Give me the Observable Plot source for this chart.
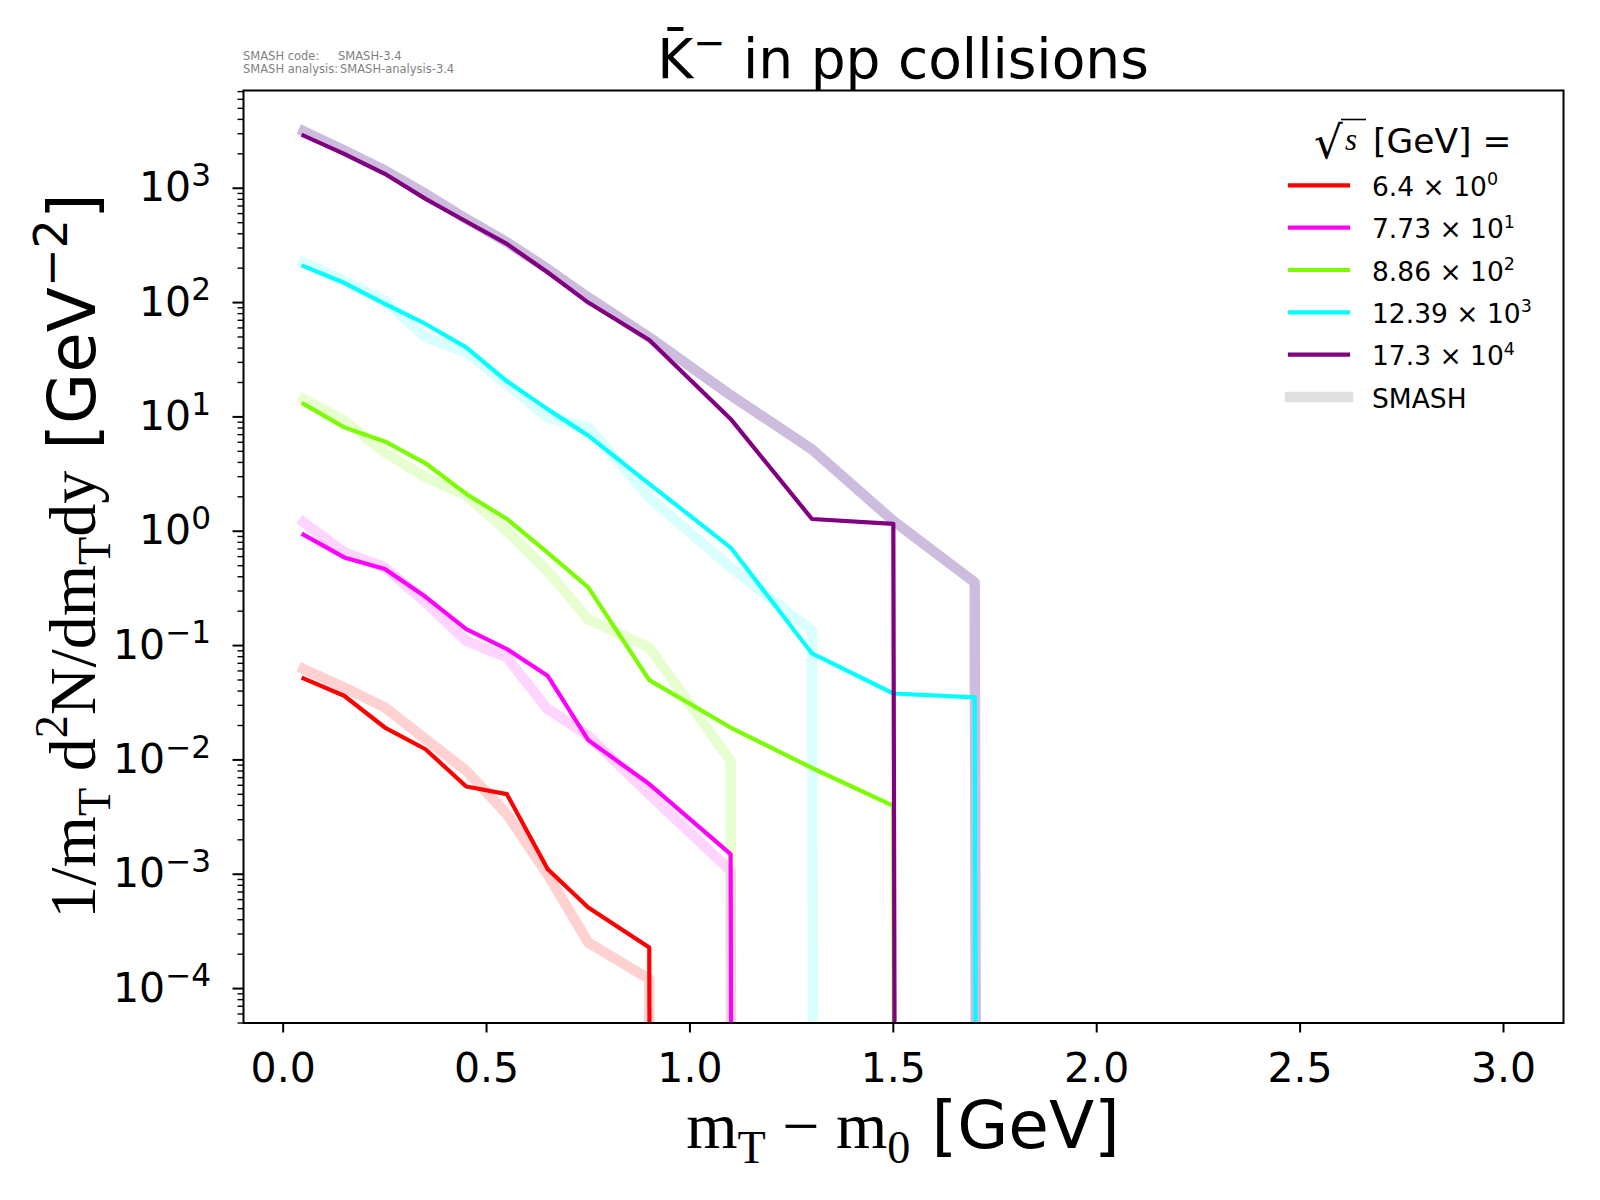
<!DOCTYPE html>
<html>
<head>
<meta charset="utf-8">
<script src="https://cdn.jsdelivr.net/npm/d3@7"></script>
<script src="https://cdn.jsdelivr.net/npm/@observablehq/plot@0.6"></script>
<style>
  body { margin: 0; background: #fff; }
  svg { display: block; }
  text { white-space: pre; }
</style>
</head>
<body>
<script>
// ---------------- data ----------------
const xBins = [0.05, 0.15, 0.25, 0.35, 0.45, 0.55, 0.65, 0.75, 0.9, 1.1, 1.3, 1.5, 1.7, 1.9];

const energyLabels = ["6.4 × 10^0", "7.73 × 10^1", "8.86 × 10^2", "12.39 × 10^3", "17.3 × 10^4"];

// experimental data (scaled)
const expE1 = [0.0516, 0.0364, 0.0192, 0.0124, 0.00586, 0.00502, 0.00111, 0.000512, 0.000229, 0, 0, 0, 0, 0];
const expE2 = [0.933, 0.59, 0.467, 0.267, 0.1395, 0.0933, 0.0545, 0.0149, 0.00615, 0.0015, 0, 0, 0, 0];
const expE3 = [13.0, 8.1, 6.1, 3.93, 2.12, 1.28, 0.65, 0.323, 0.0499, 0.0192, 0.0085, 0.00397, 0, 0];
const expE4 = [208, 149, 97.3, 65, 40.6, 20.5, 11.7, 6.86, 2.6, 0.72, 0.0854, 0.0381, 0.0352, 0];
const expE5 = [2890, 2000, 1337, 807, 512, 326, 184, 100, 47.1, 9.6, 1.28, 1.16, 0, 0];

// SMASH (scaled)
const smashE1 = [0.0624, 0.0431, 0.0288, 0.0152, 0.00804, 0.00336, 0.001, 0.000253, 0.000121, 0, 0, 0, 0, 0];
const smashE2 = [1.2, 0.653, 0.483, 0.239, 0.110, 0.0787, 0.0279, 0.0163, 0.00502, 0.00107, 0, 0, 0, 0];
const smashE3 = [14.4, 9.27, 4.9, 2.96, 2.05, 1.01, 0.45, 0.17, 0.096, 0.0098, 0, 0, 0, 0];
const smashE4 = [225, 155, 104, 49.7, 36.7, 19.4, 9.9, 8.1, 1.98, 0.483, 0.135, 0, 0, 0];
const smashE5 = [3150, 2140, 1430, 893, 540, 337, 197, 111, 49.7, 15.5, 5.2, 1.23, 0.357, 0];

const xTicks = [0, 0.5, 1.0, 1.5, 2.0, 2.5, 3.0];
const yMajorTicks = [1e-4, 1e-3, 1e-2, 1e-1, 1e0, 1e1, 1e2, 1e3];

// ---------------- styles ----------------
const lineColors = ["#ff0000", "#ff00ff", "#7cfc00", "#00ffff", "#800080"];
const bandColors = ["#ff0000", "#ff00ff", "#7cfc00", "#00ffff", "#663399"];
const bandOpacity = [0.18, 0.17, 0.18, 0.15, 0.33];

const expSeries = [expE1, expE2, expE3, expE4, expE5];
const smashSeries = [smashE1, smashE2, smashE3, smashE4, smashE5];

const yDomain = [5e-5, 7160];
const FLOOR = 1e-300; // non-positive values clipped like a log axis does
const toRows = vals => xBins.map((x, i) => ({x, y: vals[i] > 0 ? vals[i] : FLOOR}));

const yMinorTicks = [];
for (let e = -5; e <= 3; e++) for (let m = 2; m <= 9; m++) {
  const v = m * Math.pow(10, e);
  if (v >= yDomain[0] && v <= yDomain[1]) yMinorTicks.push(v);
}

const supFmt = d => "10^" + Math.round(Math.log10(d));
const Y_TICK_FS = 41;

const svg = Plot.plot({
  width: 1600,
  height: 1200,
  marginLeft: 243,
  marginRight: 37,
  marginTop: 90,
  marginBottom: 177.5,
  style: {fontFamily: "DejaVu Sans", background: "white", overflow: "visible"},
  x: {domain: [-0.0975, 3.1475], label: null},
  y: {type: "log", domain: yDomain, label: null},
  marks: [
    ...smashSeries.map((v, k) => Plot.line(toRows(v), {
      x: "x", y: "y", stroke: bandColors[k], strokeOpacity: bandOpacity[k],
      strokeWidth: 10.4, strokeLinecap: "square", strokeLinejoin: "round", clip: true
    })),
    ...expSeries.map((v, k) => Plot.line(toRows(v), {
      x: "x", y: "y", stroke: lineColors[k],
      strokeWidth: 4.2, strokeLinecap: "square", strokeLinejoin: "round", clip: true
    })),
    Plot.axisX({ticks: xTicks, tickFormat: d3.format(".1f"), tickSize: 10, tickPadding: 20,
      fontSize: 41, strokeWidth: 2, label: null}),
    Plot.axisY({ticks: yMinorTicks, tickFormat: () => "", tickSize: 5.5, strokeWidth: 1.4, label: null}),
    Plot.axisY({ticks: yMajorTicks, tickFormat: supFmt, tickSize: 10.5, tickPadding: 22,
      fontSize: Y_TICK_FS, strokeWidth: 2, label: null}),
    Plot.frame({stroke: "black", strokeWidth: 2})
  ]
});
document.body.appendChild(svg);

// ---------------- text helpers ----------------
const S = d3.select(svg);
const SANS = "DejaVu Sans";
const SERIF = "Liberation Serif";

function richText(parent, parts, size, attrs) {
  const t = parent.append("text").attr("font-size", size).attr("font-family", SANS)
    .attr("fill", "black").attr("text-anchor", "start");
  for (const [k, v] of Object.entries(attrs || {})) t.attr(k, v);
  let cur = 0;
  for (const p of parts) {
    const small = p.sub || p.sup;
    const target = p.sub ? 0.22 * size : p.sup ? -(p.shift || 0.42) * size : 0;
    const ts = t.append("tspan").text(p.t).attr("font-size", small ? size * (p.scale || 0.7) : size);
    if (Math.abs(target - cur) > 1e-6) { ts.attr("dy", target - cur); cur = target; }
    if (p.f) ts.attr("font-family", p.f);
    if (p.i) ts.attr("font-style", "italic");
  }
  return t;
}
const fixMinus = s => s.replace(/-/g, "\u2212");

// y tick labels with superscript exponents
S.selectAll('g[aria-label="y-axis tick label"] text').each(function () {
  const s = this.textContent;
  if (!s.includes("^")) return;
  const [base, exp] = s.split("^");
  const t = d3.select(this);
  t.text(base);
  t.append("tspan").text(fixMinus(exp)).attr("font-size", Y_TICK_FS * 0.76).attr("dy", -15.5);
});

// small version info
const info = S.append("g").attr("fill", "#7f7f7f").attr("font-size", 11.5)
  .attr("font-family", SANS).attr("text-anchor", "start");
info.append("text").attr("x", 243).attr("y", 59.5).text("SMASH code:");
info.append("text").attr("x", 338).attr("y", 59.5).text("SMASH-3.4");
info.append("text").attr("x", 243).attr("y", 73).text("SMASH analysis:");
info.append("text").attr("x", 340).attr("y", 73).text("SMASH-analysis-3.4");

// title
richText(S, [
  {t: "K\u0304"},
  {t: "\u2212", sup: true, shift: 0.4},
  {t: " in pp collisions"}
], 55, {x: 903, y: 78.3, "text-anchor": "middle"});

// x axis label
richText(S, [
  {t: "m", f: SERIF},
  {t: "T", f: SERIF, sub: true},
  {t: " \u2212 ", f: SERIF},
  {t: "m", f: SERIF},
  {t: "0", f: SERIF, sub: true},
  {t: " [GeV]"}
], 66, {x: 903, y: 1148, "text-anchor": "middle"});

// y axis label
richText(S, [
  {t: "1/m", f: SERIF},
  {t: "T", f: SERIF, sub: true},
  {t: " d", f: SERIF},
  {t: "2", f: SERIF, sup: true},
  {t: "N/dm", f: SERIF},
  {t: "T", f: SERIF, sub: true},
  {t: "dy", f: SERIF},
  {t: " [GeV"},
  {t: "\u22122", sup: true},
  {t: "]"}
], 66, {"text-anchor": "middle", transform: "translate(95,556) rotate(-90)"});

// legend
const lg = S.append("g").attr("text-anchor", "start");
const legX0 = 1290, legX1 = 1348, legTextX = 1372, legY0 = 185.3, legGap = 42.35;
lg.append("text").attr("x", 1314).attr("y", 158).attr("font-family", SANS).attr("font-size", 45).text("\u221A");
lg.append("line").attr("x1", 1341).attr("x2", 1366).attr("y1", 119.5).attr("y2", 119.5)
  .attr("stroke", "black").attr("stroke-width", 1.6);
lg.append("text").attr("x", 1345).attr("y", 150).attr("font-family", SERIF).attr("font-style", "italic")
  .attr("font-size", 31).text("s");
lg.append("text").attr("x", 1373).attr("y", 152.5).attr("font-family", SANS).attr("font-size", 34.5).text("[GeV] =");

energyLabels.forEach((lab, k) => {
  const y = legY0 + k * legGap;
  lg.append("line").attr("x1", legX0).attr("x2", legX1).attr("y1", y).attr("y2", y)
    .attr("stroke", lineColors[k]).attr("stroke-width", 4.2).attr("stroke-linecap", "square");
  const [m, e] = lab.split("^");
  richText(lg, [{t: m}, {t: e, sup: true, scale: 0.66, shift: 0.4}], 26.5, {x: legTextX, y: y + 10.7});
});
{
  const y = legY0 + 5 * legGap;
  lg.append("line").attr("x1", legX0).attr("x2", legX1).attr("y1", y).attr("y2", y)
    .attr("stroke", "#808080").attr("stroke-opacity", 0.25).attr("stroke-width", 10.4).attr("stroke-linecap", "square");
  lg.append("text").attr("x", legTextX).attr("y", y + 10.7).attr("font-family", SANS).attr("font-size", 26.5).text("SMASH");
}
</script>
</body>
</html>
